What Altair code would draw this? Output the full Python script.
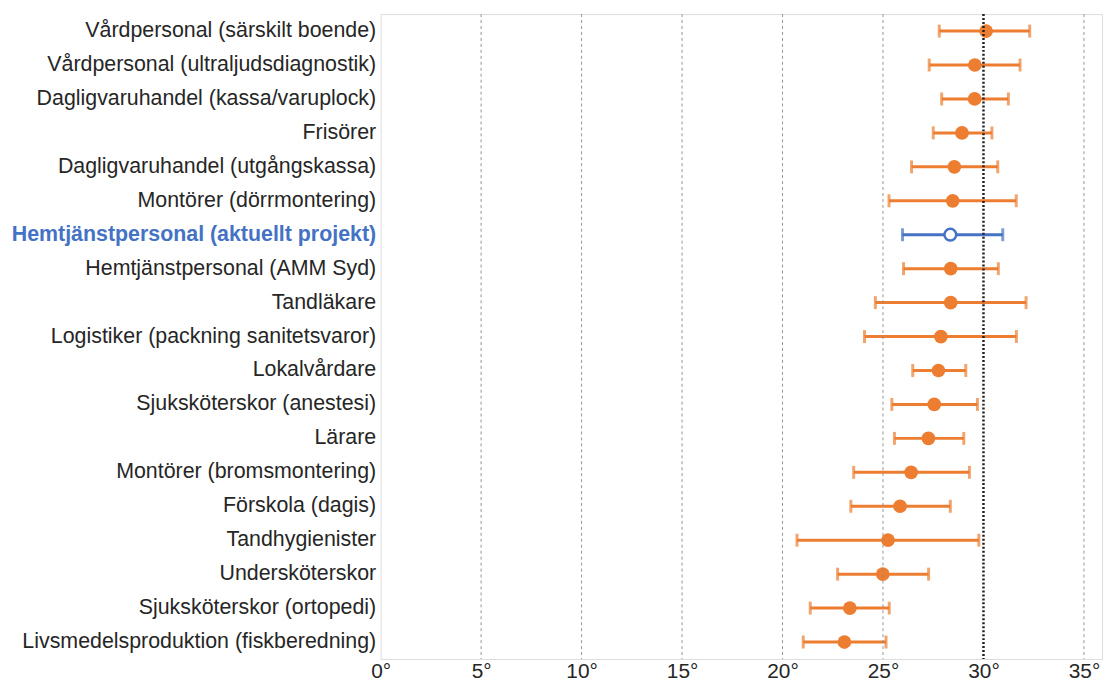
import altair as alt
import pandas as pd

categories = [
    "Vårdpersonal (särskilt boende)",
    "Vårdpersonal (ultraljudsdiagnostik)",
    "Dagligvaruhandel (kassa/varuplock)",
    "Frisörer",
    "Dagligvaruhandel (utgångskassa)",
    "Montörer (dörrmontering)",
    "Hemtjänstpersonal (aktuellt projekt)",
    "Hemtjänstpersonal (AMM Syd)",
    "Tandläkare",
    "Logistiker (packning sanitetsvaror)",
    "Lokalvårdare",
    "Sjuksköterskor (anestesi)",
    "Lärare",
    "Montörer (bromsmontering)",
    "Förskola (dagis)",
    "Tandhygienister",
    "Undersköterskor",
    "Sjuksköterskor (ortopedi)",
    "Livsmedelsproduktion (fiskberedning)",
]
means = [30.13, 29.57, 29.56, 28.93, 28.55, 28.47, 28.35, 28.37, 28.37, 27.88,
         27.76, 27.55, 27.26, 26.40, 25.85, 25.25, 24.99, 23.35, 23.08]
lows = [27.80, 27.30, 27.92, 27.50, 26.42, 25.30, 25.97, 26.02, 24.62, 24.08,
        26.48, 25.44, 25.57, 23.54, 23.40, 20.72, 22.74, 21.38, 21.03]
highs = [32.30, 31.82, 31.24, 30.42, 30.71, 31.63, 30.96, 30.74, 32.12, 31.64,
         29.12, 29.70, 29.02, 29.30, 28.35, 29.77, 27.27, 25.31, 25.15]
highlight = "Hemtjänstpersonal (aktuellt projekt)"
grid_values = [5, 10, 15, 20, 25, 35]
ref_value = [30]
tick_values = [0, 5, 10, 15, 20, 25, 30, 35]

ORANGE = "#ED7D31"
BLUE = "#4472C4"
TEXT = "#262626"

df = pd.DataFrame({"cat": categories, "mean": means, "lo": lows, "hi": highs})
df["grp"] = ["proj" if c == highlight else "other" for c in categories]

xscale = alt.Scale(domain=[0, 35.9], nice=False, zero=False)
yscale = alt.Scale(domain=categories, paddingInner=0, paddingOuter=0)

x_axis = alt.Axis(values=tick_values, labelExpr="datum.value + '°'", ticks=False,
                  domain=False, grid=False, title=None, labelFontSize=21,
                  labelColor=TEXT, labelPadding=2, labelFont="Liberation Sans",
                  labelFlush=False, labelOverlap=False)
y_axis = alt.Axis(ticks=False, domain=False, grid=False, title=None, labelFontSize=21.5,
                  labelPadding=5, labelLimit=500, labelFont="Liberation Sans",
                  labelColor=alt.condition(f"datum.value == '{highlight}'", alt.value(BLUE), alt.value(TEXT)),
                  labelFontWeight=alt.condition(f"datum.value == '{highlight}'", alt.value("bold"), alt.value("normal")))

base = alt.Chart(df)
color_scale = alt.Scale(domain=["other", "proj"], range=[ORANGE, BLUE])

bars = base.mark_rule(strokeWidth=3).encode(
    x=alt.X("lo:Q", scale=xscale, axis=x_axis),
    x2="hi:Q",
    y=alt.Y("cat:N", scale=yscale, axis=y_axis, sort=categories),
    color=alt.Color("grp:N", scale=color_scale, legend=None),
)
cap_lo = base.mark_tick(thickness=3, size=13, orient="vertical").encode(
    x=alt.X("lo:Q", scale=xscale),
    y=alt.Y("cat:N", scale=yscale, sort=categories),
    color=alt.Color("grp:N", scale=color_scale, legend=None),
)
cap_hi = base.mark_tick(thickness=3, size=13, orient="vertical").encode(
    x=alt.X("hi:Q", scale=xscale),
    y=alt.Y("cat:N", scale=yscale, sort=categories),
    color=alt.Color("grp:N", scale=color_scale, legend=None),
)
pts = base.transform_filter(alt.datum.grp == "other").mark_point(
    shape="circle", filled=True, size=190, opacity=1, color=ORANGE
).encode(
    x=alt.X("mean:Q", scale=xscale),
    y=alt.Y("cat:N", scale=yscale, sort=categories),
)
pt_proj = base.transform_filter(alt.datum.grp == "proj").mark_point(
    shape="circle", filled=False, size=140, opacity=1, fill="white", fillOpacity=1,
    stroke=BLUE, strokeWidth=2.5
).encode(
    x=alt.X("mean:Q", scale=xscale),
    y=alt.Y("cat:N", scale=yscale, sort=categories),
)

grid = alt.Chart(pd.DataFrame({"g": grid_values})).mark_rule(
    color="#8a8a8a", strokeWidth=1, strokeDash=[3, 3], opacity=0.9
).encode(x=alt.X("g:Q", scale=xscale))
ref = alt.Chart(pd.DataFrame({"r": ref_value})).mark_rule(
    color="#222222", strokeWidth=2.5, strokeDash=[2, 2]
).encode(x=alt.X("r:Q", scale=xscale))

chart = alt.layer(bars, cap_lo, cap_hi, pts, pt_proj, grid, ref).properties(
    width=726, height=649,
    autosize=alt.AutoSizeParams(type="none"),
    padding={"left": 375, "top": 4, "right": 5, "bottom": 22},
).configure_view(stroke="#9a9a9a", strokeWidth=1.5).configure(background="white")

chart.save("out.html", embed_options={"renderer": "svg", "actions": False})
